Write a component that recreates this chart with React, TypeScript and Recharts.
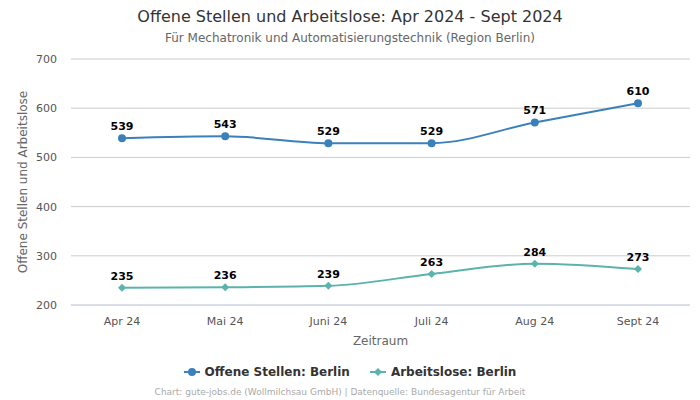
import React from 'react';
import { LineChart, Line, XAxis, YAxis, CartesianGrid, Legend, LabelList } from 'recharts';

const months = ['Apr 24', 'Mai 24', 'Juni 24', 'Juli 24', 'Aug 24', 'Sept 24'];
const offeneStellen = [539, 543, 529, 529, 571, 610];
const arbeitslose = [235, 236, 239, 263, 284, 273];
const yTicks = [200, 300, 400, 500, 600, 700];

const BLUE = '#3a80ba';
const TEAL = '#5ab4ac';
const FONT = '"DejaVu Sans", sans-serif';

const data = months.map((m, i) => ({
  month: m,
  offen: offeneStellen[i],
  arbeitslos: arbeitslose[i],
}));

const Diamond = (props: any) => {
  const { cx, cy } = props;
  if (cx == null || cy == null) return null;
  const r = 4;
  return <path d={`M${cx},${cy - r}L${cx + r},${cy}L${cx},${cy + r}L${cx - r},${cy}Z`} fill={TEAL} />;
};

const LegendContent = () => (
  <div style={{ display: 'flex', justifyContent: 'center', gap: 20, paddingLeft: 10, fontFamily: FONT, fontSize: 12, fontWeight: 'bold', color: '#333' }}>
    <span style={{ display: 'flex', alignItems: 'center' }}>
      <svg width={16} height={10} style={{ marginRight: 5 }}>
        <line x1={0} y1={5} x2={16} y2={5} stroke={BLUE} strokeWidth={2} />
        <circle cx={8} cy={5} r={4} fill={BLUE} />
      </svg>
      Offene Stellen: Berlin
    </span>
    <span style={{ display: 'flex', alignItems: 'center' }}>
      <svg width={16} height={10} style={{ marginRight: 5 }}>
        <line x1={0} y1={5} x2={16} y2={5} stroke={TEAL} strokeWidth={2} />
        <path d="M8,1L12,5L8,9L4,5Z" fill={TEAL} />
      </svg>
      Arbeitslose: Berlin
    </span>
  </div>
);

export default function App() {
  return (
    <div style={{ position: 'relative', width: 700, height: 400, fontFamily: FONT }}>
      <style>{'body{margin:0}'}</style>
      <div style={{ position: 'absolute', top: 7, width: 700, textAlign: 'center', fontSize: 16, color: '#333' }}>
        Offene Stellen und Arbeitslose: Apr 2024 - Sept 2024
      </div>
      <div style={{ position: 'absolute', top: 31, width: 700, textAlign: 'center', fontSize: 12, color: '#666' }}>
        Für Mechatronik und Automatisierungstechnik (Region Berlin)
      </div>
      <LineChart width={700} height={400} data={data} margin={{ top: 59, right: 10, bottom: 15, left: 0 }}>
        <CartesianGrid vertical={false} stroke="#ccc" />
        <XAxis
          dataKey="month"
          padding={{ left: 51, right: 52 }}
          tickLine={false}
          axisLine={{ stroke: '#ccd6eb' }}
          tick={{ fontSize: 11, fill: '#555', fontFamily: FONT }}
          tickMargin={6}
          height={40}
          label={{ value: 'Zeitraum', position: 'insideBottom', offset: 0, style: { fontSize: 12, fill: '#666', fontFamily: FONT } }}
        />
        <YAxis
          domain={[200, 700]}
          ticks={yTicks}
          width={71}
          tickLine={false}
          axisLine={false}
          tickMargin={8}
          tick={{ fontSize: 11, fill: '#555', fontFamily: FONT }}
          label={{ value: 'Offene Stellen und Arbeitslose', angle: -90, position: 'insideLeft', dx: 18, style: { textAnchor: 'middle', fontSize: 12, fill: '#666', fontFamily: FONT } }}
        />
        <Legend verticalAlign="bottom" height={40} content={<LegendContent />} wrapperStyle={{ top: 365, bottom: 'auto' }} />
        <Line
          type="monotone"
          dataKey="offen"
          name="Offene Stellen: Berlin"
          stroke={BLUE}
          strokeWidth={2}
          dot={{ r: 4, fill: BLUE, stroke: BLUE, strokeWidth: 0 }}
          isAnimationActive={false}
        >
          <LabelList dataKey="offen" position="top" offset={8} style={{ fontSize: 11, fontWeight: 'bold', fill: '#000', fontFamily: FONT }} />
        </Line>
        <Line
          type="monotone"
          dataKey="arbeitslos"
          name="Arbeitslose: Berlin"
          stroke={TEAL}
          strokeWidth={2}
          dot={<Diamond />}
          isAnimationActive={false}
        >
          <LabelList dataKey="arbeitslos" position="top" offset={8} style={{ fontSize: 11, fontWeight: 'bold', fill: '#000', fontFamily: FONT }} />
        </Line>
      </LineChart>
      <div style={{ position: 'absolute', top: 387, left: -10, width: 700, textAlign: 'center', fontSize: 9, color: '#aaa' }}>
        Chart: gute-jobs.de (Wollmilchsau GmbH) | Datenquelle: Bundesagentur für Arbeit
      </div>
    </div>
  );
}
